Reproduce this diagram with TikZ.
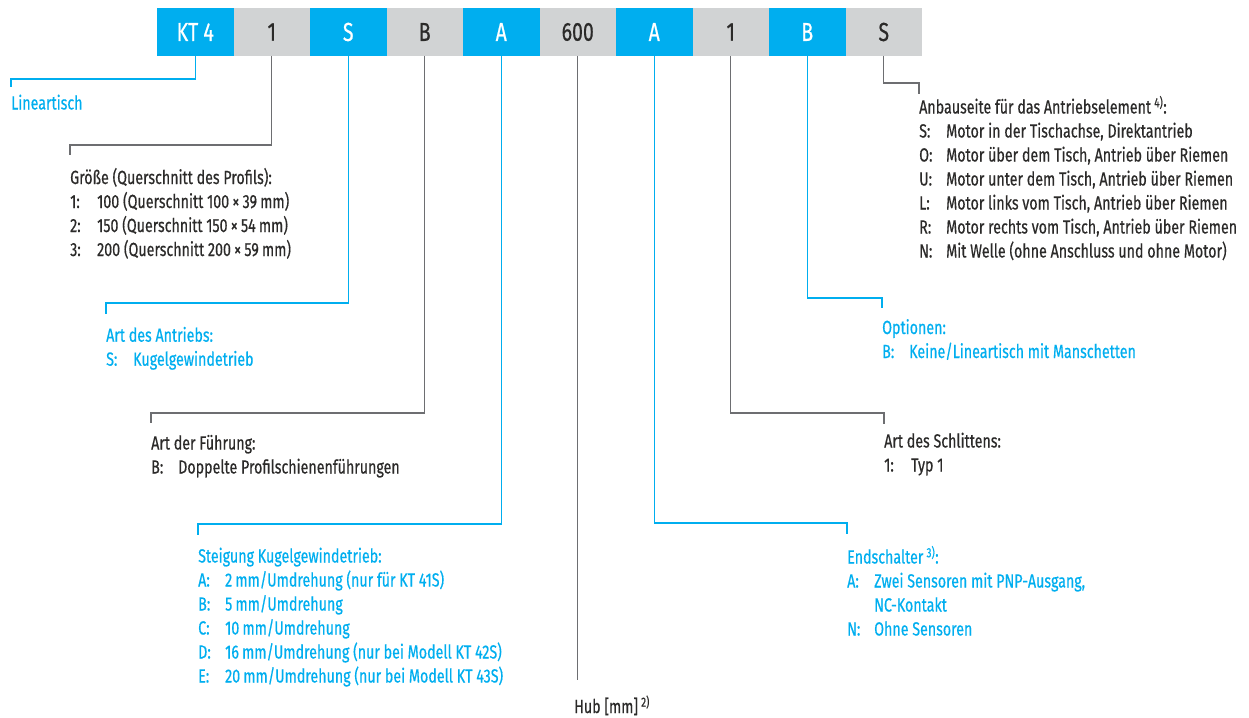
\documentclass[tikz,border=0pt]{standalone}
\usepackage{fontspec}
\setmainfont[FakeStretch=0.75, FakeBold=0.5]{Fira Sans}
\usetikzlibrary{positioning, calc}

\definecolor{codeblue}{HTML}{00AEEF}
\definecolor{codegray}{HTML}{D1D3D4}
\definecolor{textdark}{HTML}{2B2A29}
\definecolor{linegray}{HTML}{6D6E71}

% one option line: key in a fixed column, then its meaning
\newcommand{\opt}[2]{\makebox[27pt][l]{#1:}#2}
\newcommand{\optcont}[1]{\hspace*{27pt}#1}
\newcommand{\fnref}[1]{\,\textsuperscript{#1)}}

\begin{document}
\begin{tikzpicture}[
    x=1pt, y=-1pt,
    field/.style={minimum width=76.5pt, minimum height=48pt, inner sep=0pt, outer sep=0pt,
                  font=\fontsize{26}{30}\selectfont},
    bluefield/.style={field, fill=codeblue, text=white},
    grayfield/.style={field, fill=codegray, text=textdark},
    desc/.style={anchor=base west, inner sep=0pt, font=\fontsize{19}{24}\selectfont},
    bluedesc/.style={desc, text=codeblue},
    graydesc/.style={desc, text=textdark},
    bluelink/.style={draw=codeblue, line width=1.1pt},
    graylink/.style={draw=linegray, line width=1.1pt},
]
    \useasboundingbox (0,0) rectangle (1249,717);

    % the ordering code
    \foreach \lbl/\st [count=\i] in {KT 4/bluefield, 1/grayfield, S/bluefield, B/grayfield,
            A/bluefield, 600/grayfield, A/bluefield, 1/grayfield, B/bluefield, S/grayfield}
        \node[\st] (b\i) at ({157 + 76.5*(\i-0.5)}, 32) {\lbl};

    % left side
    \node[bluedesc] (t1) at (11, 109.5) {Lineartisch};

    \node[graydesc] (t2) at (70, 184) {\begin{tabular}[t]{@{}l@{}}
        Größe (Querschnitt des Profils):\\
        \opt{1}{100 (Querschnitt 100\,×\,39\,mm)}\\
        \opt{2}{150 (Querschnitt 150\,×\,54\,mm)}\\
        \opt{3}{200 (Querschnitt 200\,×\,59\,mm)}
    \end{tabular}};

    \node[bluedesc] (t3) at (106, 341.7) {\begin{tabular}[t]{@{}l@{}}
        Art des Antriebs:\\
        \opt{S}{Kugelgewindetrieb}
    \end{tabular}};

    \node[graydesc] (t4) at (151, 449.5) {\begin{tabular}[t]{@{}l@{}}
        Art der Führung:\\
        \opt{B}{Doppelte Profilschienenführungen}
    \end{tabular}};

    \node[bluedesc] (t5) at (198, 562.5) {\begin{tabular}[t]{@{}l@{}}
        Steigung Kugelgewindetrieb:\\
        \opt{A}{2\,mm/Umdrehung (nur für KT 41S)}\\
        \opt{B}{5\,mm/Umdrehung}\\
        \opt{C}{10\,mm/Umdrehung}\\
        \opt{D}{16\,mm/Umdrehung (nur bei Modell KT 42S)}\\
        \opt{E}{20\,mm/Umdrehung (nur bei Modell KT 43S)}
    \end{tabular}};

    \node[graydesc] (t6) at (574, 713) {Hub [mm]\fnref{2}};

    % right side
    \node[bluedesc] (t7) at (847, 563.5) {\begin{tabular}[t]{@{}l@{}}
        Endschalter\fnref{3}:\\
        \opt{A}{Zwei Sensoren mit PNP-Ausgang,}\\
        \optcont{NC-Kontakt}\\
        \opt{N}{Ohne Sensoren}
    \end{tabular}};

    \node[graydesc] (t8) at (884, 447.5) {\begin{tabular}[t]{@{}l@{}}
        Art des Schlittens:\\
        \opt{1}{Typ 1}
    \end{tabular}};

    \node[bluedesc] (t9) at (882, 334) {\begin{tabular}[t]{@{}l@{}}
        Optionen:\\
        \opt{B}{Keine/Lineartisch mit Manschetten}
    \end{tabular}};

    \node[graydesc] (t10) at (919, 113.5) {\begin{tabular}[t]{@{}l@{}}
        Anbauseite für das Antriebselement\fnref{4}:\\
        \opt{S}{Motor in der Tischachse, Direktantrieb}\\
        \opt{O}{Motor über dem Tisch, Antrieb über Riemen}\\
        \opt{U}{Motor unter dem Tisch, Antrieb über Riemen}\\
        \opt{L}{Motor links vom Tisch, Antrieb über Riemen}\\
        \opt{R}{Motor rechts vom Tisch, Antrieb über Riemen}\\
        \opt{N}{Mit Welle (ohne Anschluss und ohne Motor)}
    \end{tabular}};

    % leader lines
    \draw[bluelink] (b1.south) |- ([yshift=30.5]t1.base west) -- ([yshift=22.5]t1.base west);
    \draw[graylink] (b2.south) |- ([yshift=39]t2.base west) -- ([yshift=29]t2.base west);
    \draw[bluelink] (b3.south) |- ([yshift=38.7]t3.base west) -- ([yshift=27.7]t3.base west);
    \draw[graylink] (b4.south) |- ([yshift=36.5]t4.base west) -- ([yshift=26.5]t4.base west);
    \draw[bluelink] (b5.south) |- ([yshift=38.5]t5.base west) -- ([yshift=27.5]t5.base west);
    \draw[graylink] (b6.south) -- ($(b6.south |- t6.base)+(0,-33)$);
    \draw[bluelink] (b7.south) |- ([yshift=40.5]t7.base west) -- ([yshift=29.5]t7.base west);
    \draw[graylink] (b8.south) |- ([yshift=34.5]t8.base west) -- ([yshift=23.5]t8.base west);
    \draw[bluelink] (b9.south) |- ([yshift=36]t9.base west) -- ([yshift=26]t9.base west);
    \draw[graylink] (b10.south) |- ([yshift=30.5]t10.base west) -- ([yshift=19.5]t10.base west);

\end{tikzpicture}
\end{document}
